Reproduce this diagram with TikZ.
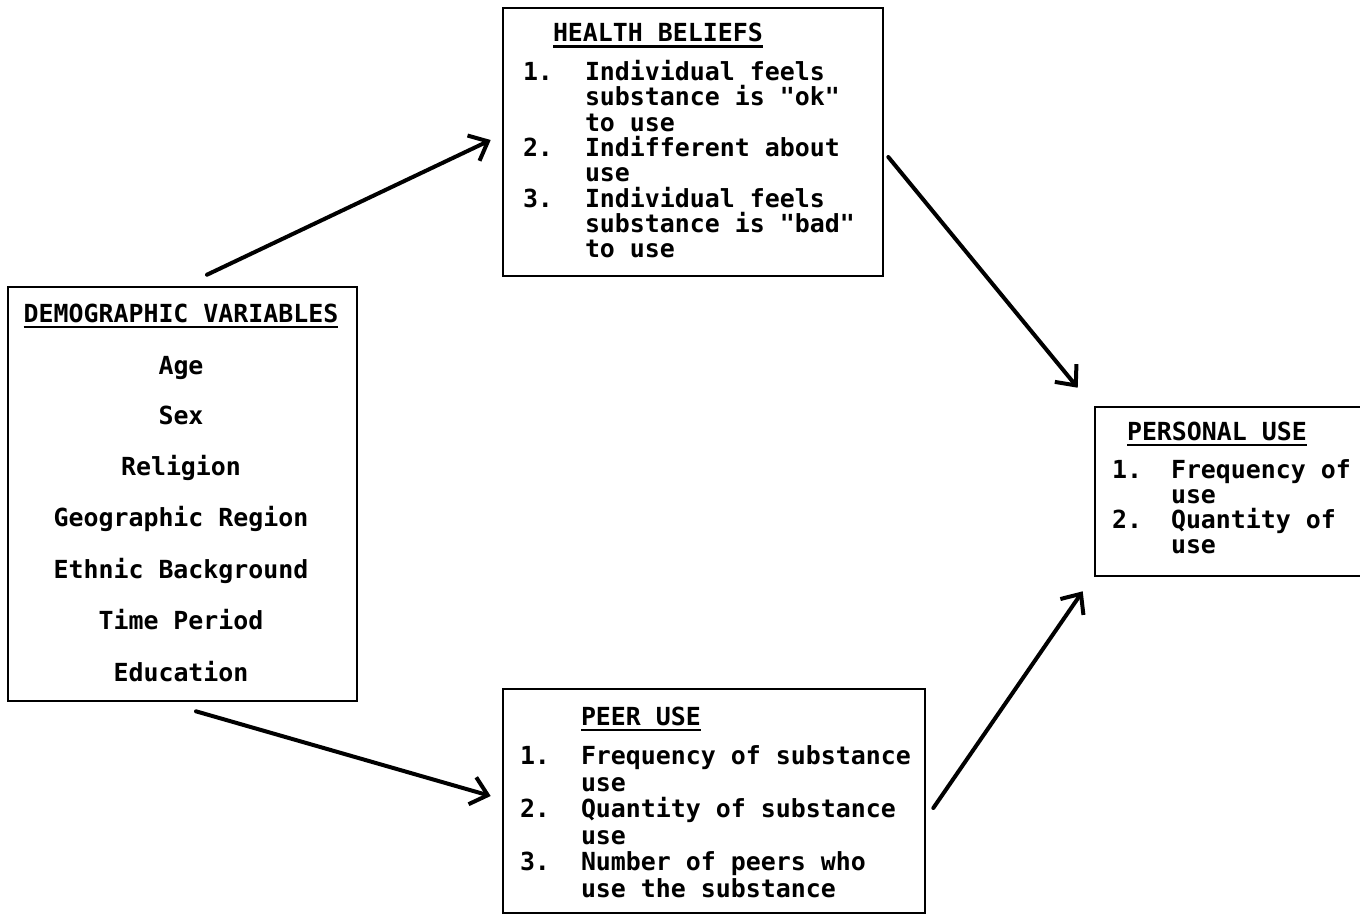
\documentclass[tikz,border=0pt]{standalone}
\usepackage{fontspec}
\newfontfamily\twfont{DejaVu Sans Mono}
\usetikzlibrary{arrows.meta,calc,fit}
\tikzset{
  box/.style={draw=black, line width=1.3pt, inner sep=0pt, rectangle},
  txt/.style={inner sep=0pt, outer sep=0pt, font=\twfont\bfseries\fontsize{12.45pt}{15pt}\selectfont, anchor=base west},
  ctxt/.style={txt, anchor=base},
  uline/.style={line width=1.3pt},
  arr/.style={line width=2pt, line cap=round, -{Straight Barb[length=8pt,width=14pt,line width=2pt]}}
}
\begin{document}
\begin{tikzpicture}[x=0.5pt,y=-0.5pt]
\clip (0,0) rectangle (1360,917);
\fill[white] (0,0) rectangle (1360,917);

% boxes
\node[box, fit={(8,287) (357,701)}] (demo) {};
\node[box, fit={(503,8) (883,276)}] (hb) {};
\node[box, fit={(503,689) (925,913)}] (peer) {};
\node[box, fit={(1095,407) (1380,576)}] (pers) {};

% demographic variables
\node[ctxt] (dt) at (181,322) {DEMOGRAPHIC VARIABLES};
\draw[uline] ($(dt.base west)+(0,5)$) -- ($(dt.base east)+(0,5)$);
\node[ctxt] (d1) at (181,374) {Age};
\node[ctxt] (d2) at (181,424) {Sex};
\node[ctxt] (d3) at (181,475) {Religion};
\node[ctxt] (d4) at (181,526.5) {Geographic Region};
\node[ctxt] (d5) at (181,578) {Ethnic Background};
\node[ctxt] (d6) at (181,629) {Time Period};
\node[ctxt] (d7) at (181,681) {Education};

% health beliefs
\node[txt] (ht) at (553,41.5) {HEALTH BELIEFS};
\draw[uline] ($(ht.base west)+(0,5)$) -- ($(ht.base east)+(0,5)$);
\node[txt] (hn1) at (523,80.5) {1.};
\node[txt] (h1) at (585,80.5) {Individual feels};
\node[txt] (h2) at (585,105.8) {substance is "ok"};
\node[txt] (h3) at (585,131.1) {to use};
\node[txt] (hn2) at (523,156.4) {2.};
\node[txt] (h4) at (585,156.4) {Indifferent about};
\node[txt] (h5) at (585,181.7) {use};
\node[txt] (hn3) at (523,207) {3.};
\node[txt] (h6) at (585,207) {Individual feels};
\node[txt] (h7) at (585,232.3) {substance is "bad"};
\node[txt] (h8) at (585,257.6) {to use};

% peer use
\node[txt] (pt) at (581,725) {PEER USE};
\draw[uline] ($(pt.base west)+(0,5)$) -- ($(pt.base east)+(0,5)$);
\node[txt] (pn1) at (520,764.5) {1.};
\node[txt] (p1) at (581,764.5) {Frequency of substance};
\node[txt] (p2) at (581,791) {use};
\node[txt] (pn2) at (520,817.7) {2.};
\node[txt] (p3) at (581,817.7) {Quantity of substance};
\node[txt] (p4) at (581,844.3) {use};
\node[txt] (pn3) at (520,870.9) {3.};
\node[txt] (p5) at (581,870.9) {Number of peers who};
\node[txt] (p6) at (581,897.5) {use the substance};

% personal use
\node[txt] (st) at (1127,440) {PERSONAL USE};
\draw[uline] ($(st.base west)+(0,5)$) -- ($(st.base east)+(0,5)$);
\node[txt] (sn1) at (1112,478) {1.};
\node[txt] (s1) at (1171,478) {Frequency of};
\node[txt] (s2) at (1171,503) {use};
\node[txt] (sn2) at (1112,528) {2.};
\node[txt] (s3) at (1171,528) {Quantity of};
\node[txt] (s4) at (1171,553) {use};

% arrows
\draw[arr] ($(demo.north)+(24.5,-11)$) -- ($(hb.west)+(-11,-2)$);
\draw[arr] ($(hb.east)+(4,15)$) -- ($(pers.north west)+(-16,-18)$);
\draw[arr] ($(demo.south)+(13.5,9)$) -- ($(peer.west)+(-11,-5)$);
\draw[arr] ($(peer.east)+(7,7)$) -- ($(pers.south west)+(-11,14)$);
\end{tikzpicture}
\end{document}
